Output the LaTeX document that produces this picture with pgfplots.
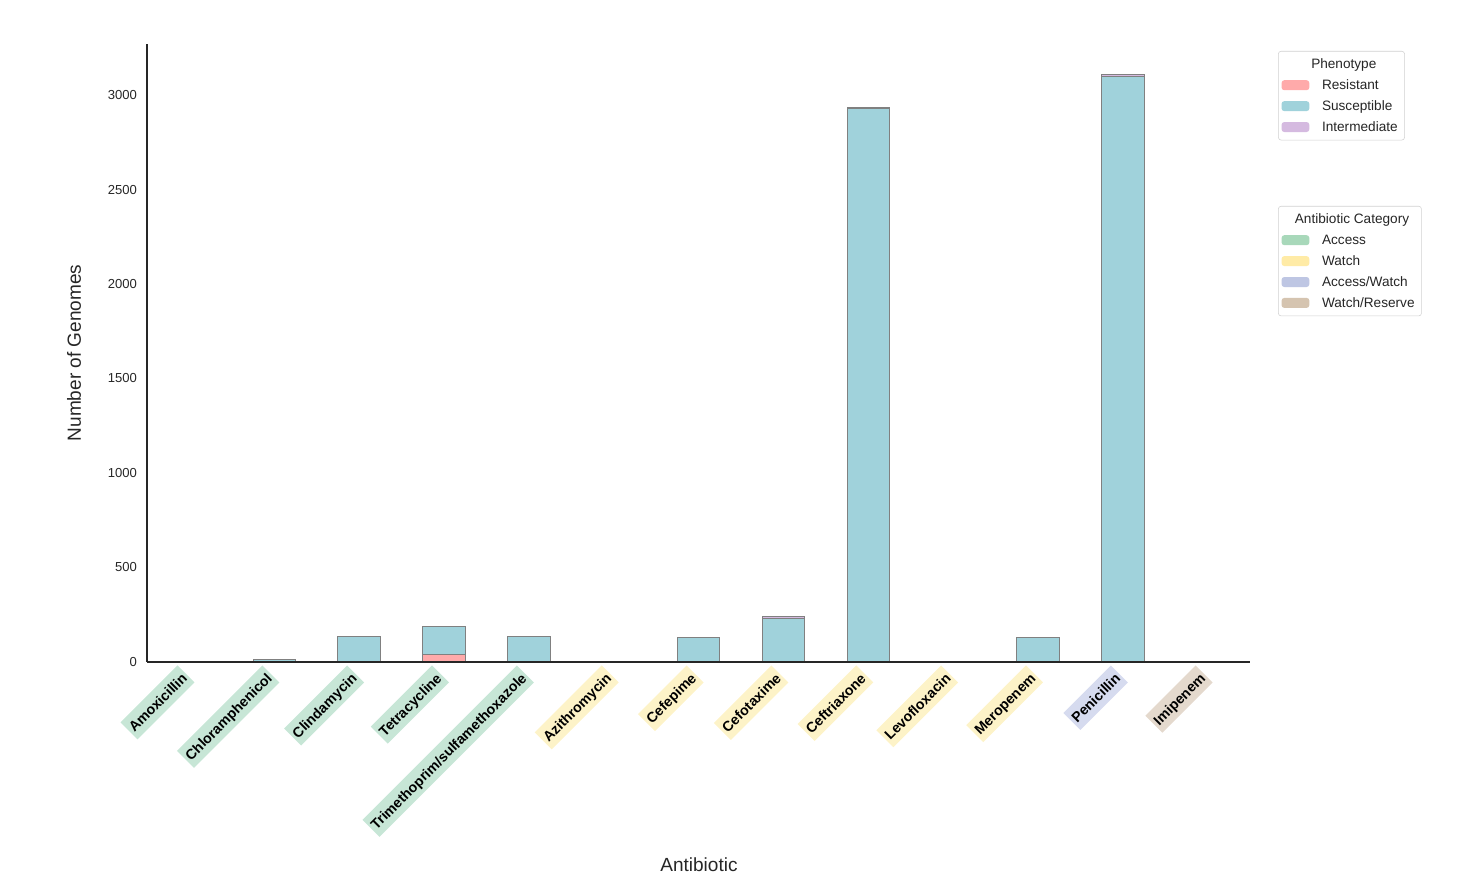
\documentclass[border=0pt]{standalone}
\usepackage{pgfplots}
\pgfplotsset{compat=1.18}
\usepackage{fontspec}
\setmainfont{Liberation Sans}

% phenotype colours
\definecolor{resC}{HTML}{FFAAAA}
\definecolor{susC}{HTML}{A0D2DB}
\definecolor{intC}{HTML}{D5BAE0}
% category colours (legend) and lighter label boxes
\definecolor{accC}{HTML}{A8D8BA}
\definecolor{watC}{HTML}{FFEBA6}
\definecolor{awC}{HTML}{BEC6E3}
\definecolor{wrC}{HTML}{D5C4B0}
\definecolor{accL}{HTML}{C7E6D6}
\definecolor{watL}{HTML}{FDF3C8}
\definecolor{awL}{HTML}{D6DBEF}
\definecolor{wrL}{HTML}{E4D9CD}
\definecolor{txt}{HTML}{262626}

\setlength{\fboxsep}{1.8pt}
\newcommand{\lab}[2]{\colorbox{#1}{\rule[-3pt]{0pt}{13.7pt}#2}}
\newcommand{\ls}{\rule[-2.2pt]{0pt}{9.6pt}}

\pgfplotsset{
  boxlegend/.style={
    legend cell align=left,
    legend style={draw=black!18, rounded corners=2pt, fill=white,
      inner sep=2.3pt, row sep=0.85pt, text=txt,
      font=\fontsize{9.8}{11}\selectfont,
      nodes={inner sep=2.65pt},
      /tikz/every odd column/.append style={column sep=6.5pt}},
    legend image code/.code={\fill[##1,/tikz/.cd,draw=none] (0pt,-3.6pt) rectangle (20pt,3.6pt);},
  },
}

\begin{document}
\begin{tikzpicture}
\useasboundingbox (-105.84pt,-159.12pt) rectangle (952.56pt,476.64pt);
\begin{axis}[
  at={(0,0)}, anchor=south west,
  width=794.2pt, height=444.96pt, scale only axis,
  ybar stacked, bar width=0.5,
  xmin=-0.5, xmax=12.5, ymin=0, ymax=3270,
  axis on top,
  axis lines*=left,
  axis line style={color=txt, line width=0.8pt},
  major tick length=0pt,
  xtick={0,...,12},
  xticklabels={\lab{accL}{Amoxicillin},\lab{accL}{Chloramphenicol},\lab{accL}{Clindamycin},\lab{accL}{Tetracycline},\lab{accL}{Trimethoprim/sulfamethoxazole},\lab{watL}{Azithromycin},\lab{watL}{Cefepime},\lab{watL}{Cefotaxime},\lab{watL}{Ceftriaxone},\lab{watL}{Levofloxacin},\lab{watL}{Meropenem},\lab{awL}{Penicillin},\lab{wrL}{Imipenem}},
  xticklabel style={xshift=-8.6pt, yshift=-2.2pt, anchor=north east, inner sep=0pt, rotate=45,
    font=\bfseries\fontsize{10.2}{12}\selectfont, text=black},
  ytick={0,500,...,3000},
  scaled y ticks=false,
  /pgf/number format/1000 sep={},
  /pgf/number format/assume math mode=true,
  yticklabel style={font=\fontsize{9.4}{11}\selectfont, text=txt, inner sep=0pt, xshift=-7pt},
  xlabel={Antibiotic},
  ylabel={Number of Genomes},
  xlabel style={at={(0.5004,-0.3285)}, anchor=center, font=\fontsize{13.7}{16}\selectfont, text=txt},
  ylabel style={at={(-0.0662,0.5)}, anchor=center, font=\fontsize{13.7}{16}\selectfont, text=txt},
  boxlegend,
  legend style={at={(1.0254,0.9887)}, anchor=north west},
]
\addlegendimage{legend image code/.code={}}
\addlegendentry{\ls\hspace*{-7.75pt}Phenotype}
\addplot[fill=resC, draw=gray, line width=0.7pt] coordinates {
  (0,0) (1,0) (2,0) (3,41) (4,0) (5,0) (6,0) (7,2) (8,0) (9,0) (10,0) (11,0) (12,0)};
\addlegendentry{\ls Resistant}
\addplot[fill=susC, draw=gray, line width=0.7pt] coordinates {
  (0,0) (1,14) (2,137) (3,149) (4,135) (5,0) (6,130) (7,230) (8,2928) (9,0) (10,130) (11,3099) (12,0)};
\addlegendentry{\ls Susceptible}
\addplot[fill=intC, draw=gray, line width=0.7pt] coordinates {
  (0,0) (1,0) (2,0) (3,0) (4,2) (5,0) (6,0) (7,10) (8,6) (9,0) (10,0) (11,11) (12,0)};
\addlegendentry{\ls Intermediate}
\end{axis}

\begin{axis}[
  at={(0,0)}, anchor=south west,
  width=794.2pt, height=444.96pt, scale only axis,
  xmin=-0.5, xmax=12.5, ymin=0, ymax=3270,
  hide axis,
  boxlegend,
  legend style={at={(1.0254,0.7379)}, anchor=north west},
]
\addlegendimage{legend image code/.code={}}
\addlegendentry{\ls\hspace*{-19.55pt}Antibiotic Category}
\addlegendimage{fill=accC}
\addlegendentry{\ls Access}
\addlegendimage{fill=watC}
\addlegendentry{\ls Watch}
\addlegendimage{fill=awC}
\addlegendentry{\ls Access/Watch}
\addlegendimage{fill=wrC}
\addlegendentry{\ls Watch/Reserve}
\end{axis}
\end{tikzpicture}
\end{document}
